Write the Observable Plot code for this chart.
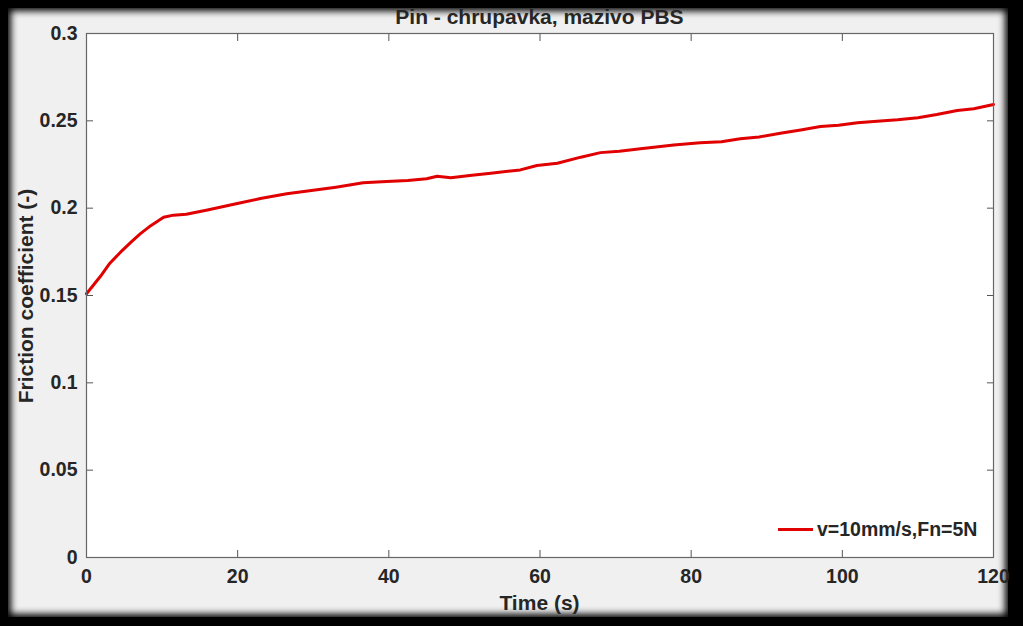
<!DOCTYPE html>
<html>
<head>
<meta charset="utf-8">
<script src="https://cdn.jsdelivr.net/npm/d3@7"></script>
<script src="https://cdn.jsdelivr.net/npm/@observablehq/plot@0.6"></script>
<style>
  html, body { margin: 0; padding: 0; background: #000; }
  #wrap { position: relative; width: 1023px; height: 626px; background: #000; overflow: hidden;
          font-family: "Liberation Sans", Arial, sans-serif; font-weight: bold; color: #262626; }
  #panel { position: absolute; left: 8px; top: 8px; width: 1000px; height: 609px; background: #f0f0f0;
           box-shadow: inset 0 0 7px 3px #000; }
  #chart { position: absolute; left: 0; top: 0; }
  #title { position: absolute; left: 86px; width: 907px; top: 5px; text-align: center; font-size: 21px; }
  #xlabel { position: absolute; left: 86px; width: 907px; top: 591px; text-align: center; font-size: 21px; }
  #ylabel { position: absolute; left: 26px; top: 296px; font-size: 21px; white-space: nowrap;
            transform: translate(-50%, -50%) rotate(-90deg); }
  #legend { position: absolute; left: 778px; top: 518px; font-size: 19.5px; display: flex; align-items: center; }
  #legend .sw { width: 35px; height: 3px; background: #e00000; margin-right: 4px; }
</style>
</head>
<body>
<div id="wrap">
  <div id="panel"></div>
  <div id="chart"></div>
  <div id="title"></div>
  <div id="xlabel"></div>
  <div id="ylabel"></div>
  <div id="legend"><div class="sw"></div><span id="legtext"></span></div>
</div>
<script>
const titleText = "Pin - chrupavka, mazivo PBS";
const xLabel = "Time (s)";
const yLabel = "Friction coefficient (-)";
const seriesName = "v=10mm/s,Fn=5N";

const xTicks = [0, 20, 40, 60, 80, 100, 120];
const yTicks = [0, 0.05, 0.1, 0.15, 0.2, 0.25, 0.3];

const time = [0, 1.85, 3, 4.5, 6, 7.1, 8.5, 10.2, 11.5, 13.2, 16, 19.8, 23, 26.5, 30, 33, 36.6, 39.7,
  42.5, 45, 46.4, 48.2, 51, 53.5, 57.4, 59.6, 62.3, 65.4, 68, 70.5, 73.3, 77.7, 81.2, 84, 86.5, 89,
  91.8, 94.5, 97.1, 99.5, 102, 104.6, 107.3, 110, 112.5, 115.2, 117.4, 120];
const friction = [0.151, 0.161, 0.168, 0.1748, 0.181, 0.1853, 0.190, 0.1948, 0.196, 0.1965, 0.199, 0.2025,
  0.2055, 0.2082, 0.2102, 0.212, 0.2145, 0.2153, 0.2158, 0.2168, 0.2183, 0.2174, 0.2188, 0.2200, 0.2219,
  0.2244, 0.2257, 0.2292, 0.2318, 0.2326, 0.234, 0.2362, 0.2374, 0.238, 0.2397, 0.2408, 0.2429, 0.2448,
  0.2467, 0.2475, 0.2489, 0.2498, 0.2506, 0.2518, 0.2536, 0.2559, 0.2569, 0.2593];

const data = time.map((t, i) => ({t, v: friction[i]}));

document.getElementById("title").textContent = titleText;
document.getElementById("xlabel").textContent = xLabel;
document.getElementById("ylabel").textContent = yLabel;
document.getElementById("legtext").textContent = seriesName;

const axisColor = "#262626";
const chart = Plot.plot({
  width: 1023,
  height: 626,
  marginLeft: 86,
  marginRight: 30,
  marginTop: 33,
  marginBottom: 69,
  style: {background: "transparent", fontFamily: "'Liberation Sans', Arial, sans-serif", fontWeight: "bold", fontSize: "19.5px", color: axisColor},
  x: {domain: [0, 120]},
  y: {domain: [0, 0.3]},
  marks: [
    Plot.frame({fill: "white", stroke: "none"}),
    Plot.line(data, {x: "t", y: "v", stroke: "#e00000", strokeWidth: 3}),
    Plot.axisX(xTicks, {anchor: "bottom", tickSize: -7, fill: "none", label: null, stroke: "#555"}),
    Plot.axisX(xTicks, {anchor: "top", tickSize: -7, fill: "none", label: null, stroke: "#555"}),
    Plot.axisY(yTicks, {anchor: "left", tickSize: -7, fill: "none", label: null, stroke: "#555"}),
    Plot.axisY(yTicks, {anchor: "right", tickSize: -7, fill: "none", label: null, stroke: "#555"}),
    Plot.axisX(xTicks, {anchor: "bottom", tickSize: 0, tickPadding: 12, label: null, tickFormat: d => String(d)}),
    Plot.axisY(yTicks, {anchor: "left", tickSize: 0, tickPadding: 9, label: null, tickFormat: d => String(d)}),
    Plot.frame({stroke: "#666", strokeWidth: 1.2})
  ]
});
document.getElementById("chart").appendChild(chart);
</script>
</body>
</html>
